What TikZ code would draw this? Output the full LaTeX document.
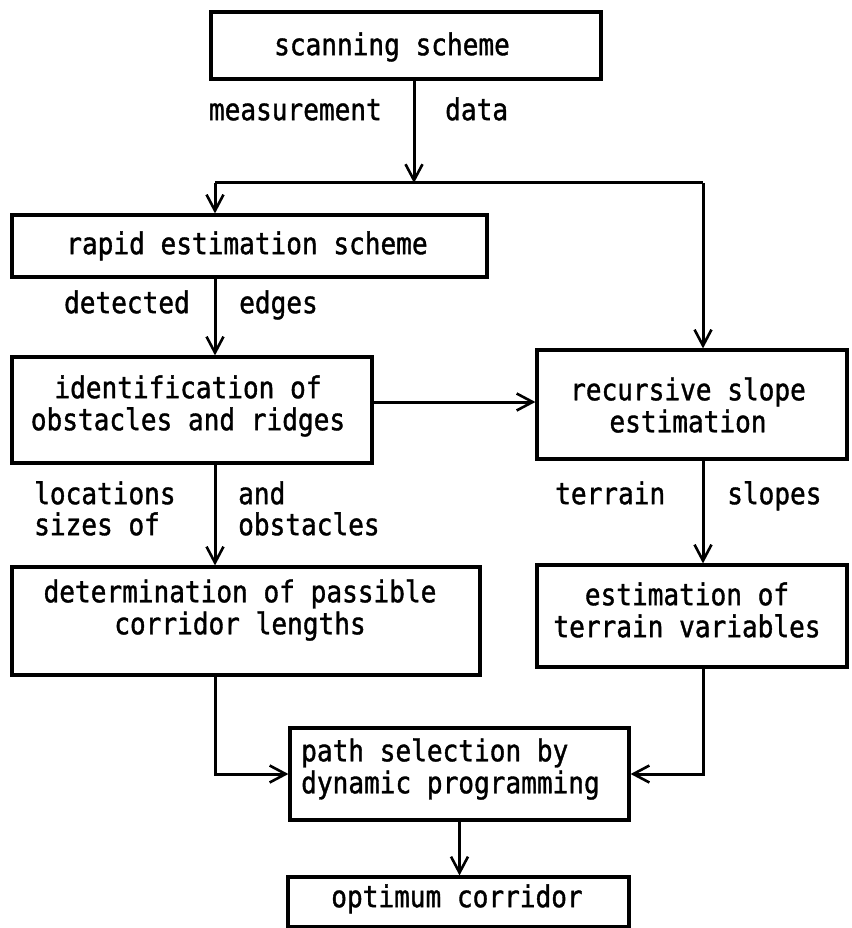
\documentclass[tikz,border=0pt]{standalone}
\usepackage{fontspec}
\newfontfamily\tw[FakeStretch=0.87,FakeBold=1.2]{DejaVu Sans Mono}
\usetikzlibrary{arrows.meta}
\begin{document}
\begin{tikzpicture}[x=1pt,y=-1pt,
  box/.style={draw, line width=3.2pt, inner sep=0pt, rectangle},
  txt/.style={inner sep=0pt, font=\tw\fontsize{30}{32}\selectfont, align=center},
  ltxt/.style={inner sep=0pt, font=\tw\fontsize{30}{32}\selectfont, align=left},
  lbl/.style={inner sep=0pt, font=\tw\fontsize{30}{32}\selectfont},
  conn/.style={line width=3pt},
  arr/.style={conn, -{Straight Barb[length=16pt,width=17pt,line width=2.6pt]}}
]
\useasboundingbox (0,0) rectangle (851,928);
\fill[white] (0,0) rectangle (851,928);

% boxes
\node[box, minimum width=390pt, minimum height=67pt]  (scan)  at (406,45.5) {};
\node[box, minimum width=475pt, minimum height=62pt]  (rapid) at (249.5,246) {};
\node[box, minimum width=360pt, minimum height=106pt] (ident) at (192,410) {};
\node[box, minimum width=310pt, minimum height=109pt] (rec)   at (692,404.5) {};
\node[box, minimum width=468pt, minimum height=108pt] (det)   at (246,621) {};
\node[box, minimum width=310pt, minimum height=102pt] (est)   at (692,616) {};
\node[box, minimum width=339pt, minimum height=92pt]  (path)  at (459.5,774) {};
\node[box, minimum width=341pt, minimum height=50pt]  (opt)   at (458.5,902) {};

% box texts
\node[lbl, anchor=mid] (scant)  at (392,53)  {scanning scheme};
\node[lbl, anchor=mid] (rapidt) at (247,252) {rapid estimation scheme};
\node[txt] (identt) at (188,406) {identification of\\obstacles and ridges};
\node[txt] (rect)   at (688,405) {recursive slope\\estimation};
\node[txt] (dett)   at (240,610) {determination of passible\\corridor lengths};
\node[txt] (estt)   at (687,610) {estimation of\\terrain variables};
\node[ltxt, anchor=west] (patht) at (301,769) {path selection by\\dynamic programming};
\node[lbl, anchor=mid] (optt)   at (457,905) {optimum corridor};

% connector labels
\node[lbl, anchor=mid east] (l1) at (382,118) {measurement};
\node[lbl, anchor=mid west] (l2) at (445,118) {data};
\node[lbl, anchor=mid east] (l3) at (190,311) {detected};
\node[lbl, anchor=mid west] (l4) at (239,311) {edges};
\node[lbl, anchor=mid west] (l5) at (34,502) {locations};
\node[lbl, anchor=mid west] (l6) at (34,533) {sizes of};
\node[lbl, anchor=mid west] (l7) at (238,502) {and};
\node[lbl, anchor=mid west] (l8) at (238,533) {obstacles};
\node[lbl, anchor=mid west] (l9) at (555,502) {terrain};
\node[lbl, anchor=mid west] (l10) at (727,502) {slopes};

% junction points
\coordinate (jM) at (414,183);
\coordinate (jL) at (215,183);
\coordinate (jR) at (703,183);
\coordinate (hy) at (0,402);

% connectors
\draw[arr] (scan.south -| jM) -- (jM);
\draw[conn] (jL) -- (jR);
\draw[arr] (jL) -- (rapid.north -| jL);
\draw[arr] (jR) -- (rec.north -| jR);
\draw[arr] (rapid.south -| jL) -- (ident.north -| jL);
\draw[arr] (ident.east |- hy) -- (rec.west |- hy);
\draw[arr] (ident.south -| jL) -- (det.north -| jL);
\draw[arr] (rec.south -| jR) -- (est.north -| jR);
\draw[arr] (det.south -| jL) |- (path.west);
\draw[arr] (est.south -| jR) |- (path.east);
\draw[arr] (path.south) -- (path.south |- opt.north);
\end{tikzpicture}
\end{document}
